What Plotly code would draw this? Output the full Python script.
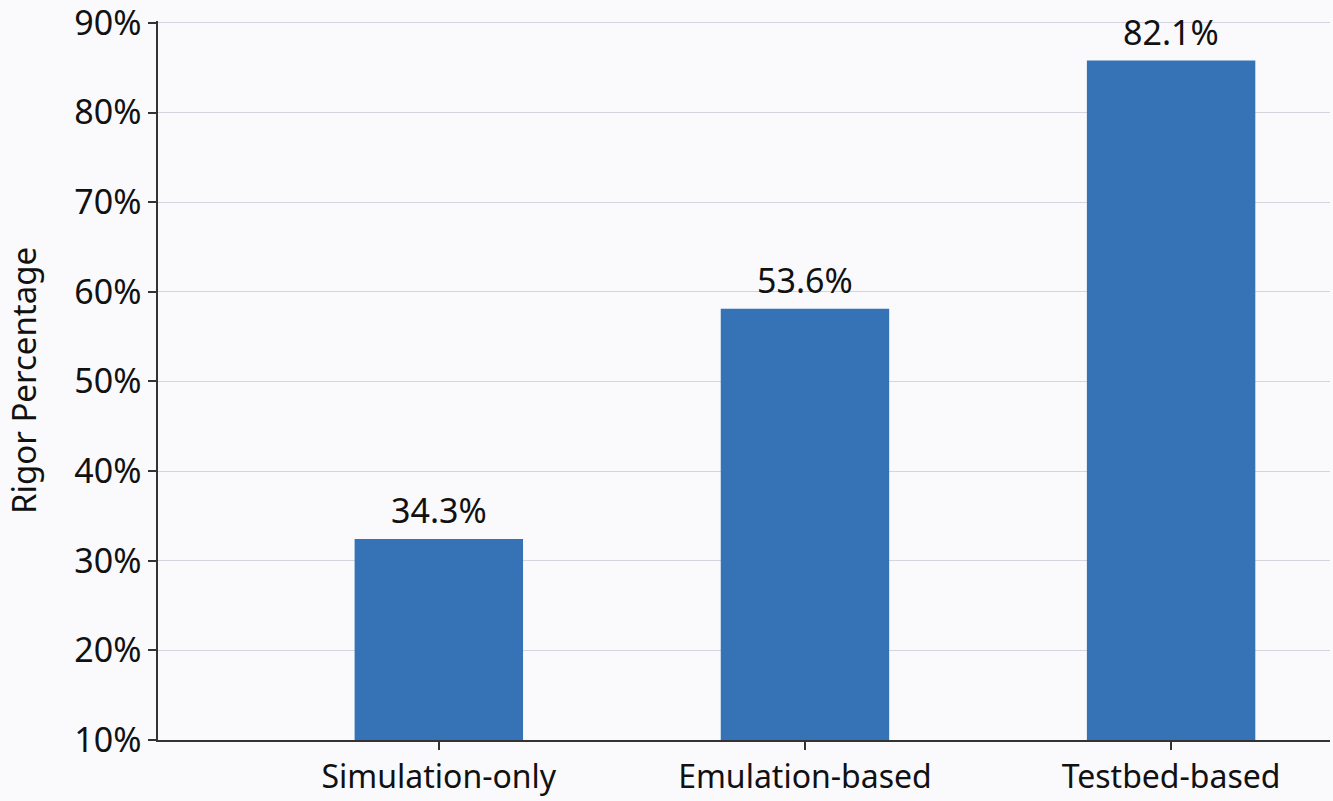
import plotly.graph_objects as go

categories = ["Simulation-only", "Emulation-based", "Testbed-based"]
bar_values = [32.4, 58.1, 85.8]
bar_labels = ["34.3%", "53.6%", "82.1%"]
y_ticks = [10, 20, 30, 40, 50, 60, 70, 80, 90]
y_tick_labels = ["10%", "20%", "30%", "40%", "50%", "60%", "70%", "80%", "90%"]

FONT = "Noto Sans"
BG = "#FAFAFD"
BAR = "#3573B6"
TXT = "#111111"

fig = go.Figure()
fig.add_trace(go.Bar(
    x=categories, y=bar_values, width=0.46,
    marker=dict(color=BAR, line=dict(width=0)),
    hoverinfo="skip", showlegend=False,
))

for c, v, t in zip(categories, bar_values, bar_labels):
    fig.add_annotation(x=c, y=v, text=t, showarrow=False, yanchor="bottom",
                       yshift=4, font=dict(family=FONT, size=34, color=TXT))

fig.update_layout(
    width=1333, height=801,
    margin=dict(l=158, r=3, t=21, b=61, autoexpand=False),
    paper_bgcolor=BG, plot_bgcolor=BG,
    font=dict(family=FONT, size=32, color=TXT),
)
fig.update_xaxes(
    type="category", range=[-0.767, 2.434], automargin=False,
    showline=True, linecolor="#333333", linewidth=1.5,
    ticks="outside", ticklen=8, tickcolor="#333333", tickwidth=1.5,
    showgrid=False, tickfont=dict(family=FONT, size=32, color=TXT),
)
fig.update_yaxes(
    range=[9.98, 90.22], tickvals=y_ticks, ticktext=y_tick_labels,
    ticklabeloverflow="allow", automargin=False,
    showline=True, linecolor="#333333", linewidth=1.5,
    ticks="outside", ticklen=8, tickcolor="#333333", tickwidth=1.5,
    showgrid=True, gridcolor="#D4D4DE", gridwidth=1, zeroline=False,
    tickfont=dict(family=FONT, size=34, color=TXT),
    title=dict(text="Rigor Percentage", font=dict(family=FONT, size=33, color=TXT), standoff=28),
)

fig.write_html("out.html", config={"displayModeBar": False},
               post_script="document.body.style.margin='0';document.body.style.overflow='hidden';")
